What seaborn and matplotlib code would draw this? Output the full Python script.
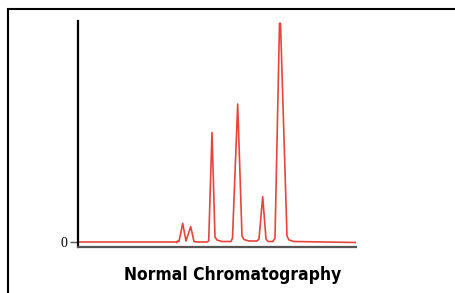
import matplotlib
matplotlib.use("Agg")
import matplotlib.pyplot as plt
import seaborn as sns
import pandas as pd
from matplotlib.patches import Rectangle

# trace: retention time (min) and detector signal
time_min = [0.0, 9.8, 9.87, 9.95, 10.1, 10.47, 10.8, 11.27, 11.6, 11.9,
            12.9, 13.07, 13.4, 13.7, 13.9, 14.4, 15.3, 15.45, 15.97, 16.4,
            16.6, 17.1, 17.9, 18.1, 18.47, 18.8, 19.0, 19.5, 19.7, 20.15,
            20.25, 20.9, 21.1, 21.6, 27.8]
signal = [0.0, 0.0, -0.7, 1.0, 0.5, 18.7, 1.0, 15.3, 0.5, 0.0,
          0.0, 1.0, 109.5, 5.0, 2.0, 0.5, 0.5, 4.0, 138.0, 6.0,
          2.5, 1.0, 1.0, 3.0, 45.3, 3.0, 0.5, 0.5, 4.0, 218.7,
          218.7, 6.0, 2.0, 0.5, -0.5]
title = "Normal Chromatography"

df = pd.DataFrame({"time": time_min, "signal": signal})

sns.set_style("white")
fig = plt.figure(figsize=(4.55, 2.93), dpi=100)
W, H = 455, 293
ax = fig.add_axes([78 / W, 1 - 247 / H, (356 - 78) / W, (247 - 21) / H])

sns.lineplot(data=df, x="time", y="signal", ax=ax, color="#e5453c",
             linewidth=1.2, sort=False)

ax.set_xlim(0, 27.8)
ax.set_ylim(-5, 221)
ax.set_xticks([])
ax.set_yticks([0])
ax.set_yticklabels(["0"], fontfamily="Liberation Serif", fontsize=10,
                   color="black")
ax.tick_params(axis="y", length=6, width=1, color="#555555", pad=1.5, left=True)
ax.set_xlabel("")
ax.set_ylabel("")
for s in ["top", "right"]:
    ax.spines[s].set_visible(False)
ax.spines["left"].set_color("black")
ax.spines["left"].set_linewidth(1.6)
ax.spines["bottom"].set_color("#555555")
ax.spines["bottom"].set_linewidth(1.6)

# outer frame, open to the right and bottom edges
fig.patches.append(Rectangle((8 / W, -0.05), 1.1, 1.05 - 9.5 / H,
                             transform=fig.transFigure, fill=False,
                             edgecolor="black", linewidth=1.5))

fig.text(233 / W, 1 - 275 / H, title, ha="center", va="center",
         fontsize=12.5, fontweight="bold", fontstretch="condensed",
         color="black", family="DejaVu Sans")

fig.savefig("out.png", dpi=100)
